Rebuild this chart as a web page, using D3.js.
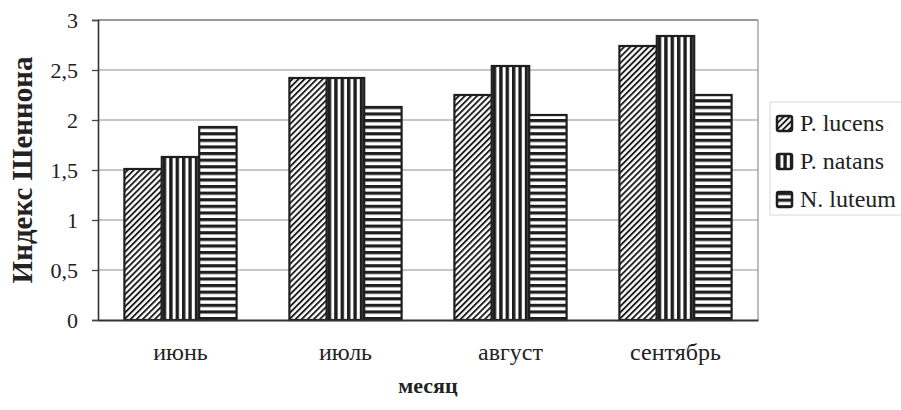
<!DOCTYPE html>
<html><head><meta charset="utf-8">
<script src="https://cdn.jsdelivr.net/npm/d3@7"></script>
<style>body{margin:0;background:#fff}svg{display:block}</style>
</head><body>
<svg id="c" width="901" height="410"></svg>
<script>
const months = ["июнь", "июль", "август", "сентябрь"];
const seriesNames = ["P. lucens", "P. natans", "N. luteum"];
const pLucens = [1.51, 2.42, 2.25, 2.74];
const pNatans = [1.63, 2.42, 2.54, 2.84];
const nLuteum = [1.93, 2.13, 2.05, 2.25];
const yTicks = [0, 0.5, 1, 1.5, 2, 2.5, 3];
const yTickLabels = ["0", "0,5", "1", "1,5", "2", "2,5", "3"];
const yTitle = "Индекс Шеннона";
const xTitle = "месяц";

const seriesValues = [pLucens, pNatans, nLuteum];
const svg = d3.select("#c");
const W = 901, H = 410;
const m = {left: 98, right: 143, top: 20, bottom: 90};
const iw = W - m.left - m.right, ih = H - m.top - m.bottom;
const FONT = '"Liberation Serif"';
const ink = "#1e1e1e";

// patterns
const defs = svg.append("defs");
const p1 = defs.append("pattern").attr("id","pat0").attr("patternUnits","userSpaceOnUse")
  .attr("width",4.3).attr("height",4.3).attr("patternTransform","rotate(45)");
p1.append("rect").attr("width",4.3).attr("height",4.3).attr("fill","#fff");
p1.append("rect").attr("width",1.9).attr("height",4.3).attr("fill",ink);
const p2 = defs.append("pattern").attr("id","pat1").attr("patternUnits","userSpaceOnUse")
  .attr("width",6.4).attr("height",6.4);
p2.append("rect").attr("width",6.4).attr("height",6.4).attr("fill","#fff");
p2.append("rect").attr("width",3.4).attr("height",6.4).attr("fill",ink);
const p3 = defs.append("pattern").attr("id","pat2").attr("patternUnits","userSpaceOnUse")
  .attr("width",6.6).attr("height",6.6);
p3.append("rect").attr("width",6.6).attr("height",6.6).attr("fill","#fff");
p3.append("rect").attr("width",6.6).attr("height",3.2).attr("fill",ink);

const g = svg.append("g").attr("transform",`translate(${m.left},${m.top})`);
const x0 = d3.scaleBand().domain(months).range([0, iw]).paddingInner(0.32).paddingOuter(0.16);
const x1 = d3.scaleBand().domain(seriesNames).range([0, x0.bandwidth()]);
const y = d3.scaleLinear().domain([0, 3]).range([ih, 0]);

// gridlines
g.append("g").selectAll("line").data(yTicks.filter(d=>d>0)).join("line")
  .attr("x1",0).attr("x2",iw).attr("y1",d=>y(d)).attr("y2",d=>y(d))
  .attr("stroke",d=>d===3?"#777":"#b5b5b5").attr("stroke-width",1.3);
// right border
g.append("line").attr("x1",iw).attr("x2",iw).attr("y1",0).attr("y2",ih)
  .attr("stroke","#9a9a9a").attr("stroke-width",1.3);

// bars
const groups = g.append("g").selectAll("g").data(months).join("g")
  .attr("transform",d=>`translate(${x0(d)},0)`);
groups.selectAll("rect").data((d,i)=>seriesNames.map((s,j)=>({s,j,v:seriesValues[j][i]}))).join("rect")
  .attr("x",d=>x1(d.s)).attr("width",x1.bandwidth())
  .attr("y",d=>y(d.v)).attr("height",d=>y(0)-y(d.v))
  .attr("fill",d=>`url(#pat${d.j})`).attr("stroke",ink).attr("stroke-width",2.2);

// y axis
const ya = d3.axisLeft(y).tickValues(yTicks).tickSize(6).tickFormat((d,i)=>yTickLabels[i]);
const yg = g.append("g").call(ya).attr("font-family",null).attr("font-size",null);
yg.select(".domain").attr("stroke","#333").attr("stroke-width",1.6);
yg.selectAll(".tick line").attr("stroke","#444").attr("stroke-width",1.3);
yg.selectAll(".tick text").style("font-family",FONT).style("font-size","22px").attr("fill","#222").attr("x",-20);

// x axis
const xa = d3.axisBottom(x0).tickSize(0).tickPadding(23);
const xg = g.append("g").attr("transform",`translate(0,${ih})`).call(xa).attr("font-family",null).attr("font-size",null);
xg.select(".domain").attr("stroke","#333").attr("stroke-width",1.8);
xg.selectAll(".tick text").style("font-family",FONT).style("font-size","24px").attr("fill","#222");

// titles
svg.append("text").attr("transform",`translate(32,${m.top+ih/2}) rotate(-90)`)
  .attr("text-anchor","middle").style("font-family",FONT).style("font-weight","bold")
  .style("font-size","29px").attr("fill","#222").text(yTitle);
svg.append("text").attr("x",m.left+iw/2).attr("y",393).attr("text-anchor","middle")
  .style("font-family",FONT).style("font-weight","bold").style("font-size","22px").attr("fill","#222").text(xTitle);

// legend
const lg = svg.append("g").attr("transform","translate(770,102)");
lg.append("rect").attr("x",0).attr("y",0).attr("width",140).attr("height",113)
  .attr("fill","none").attr("stroke","#d8d8d8").attr("stroke-width",1);
const li = lg.selectAll("g").data(seriesNames).join("g")
  .attr("transform",(d,i)=>`translate(7,${14+i*38})`);
li.append("rect").attr("width",15).attr("height",15).attr("rx",2)
  .attr("fill",(d,i)=>`url(#pat${i})`).attr("stroke",ink).attr("stroke-width",2.5);
li.append("text").attr("x",23).attr("y",15).style("font-family",FONT).style("font-size","24px")
  .attr("fill","#222").text(d=>d);
</script>
</body></html>
